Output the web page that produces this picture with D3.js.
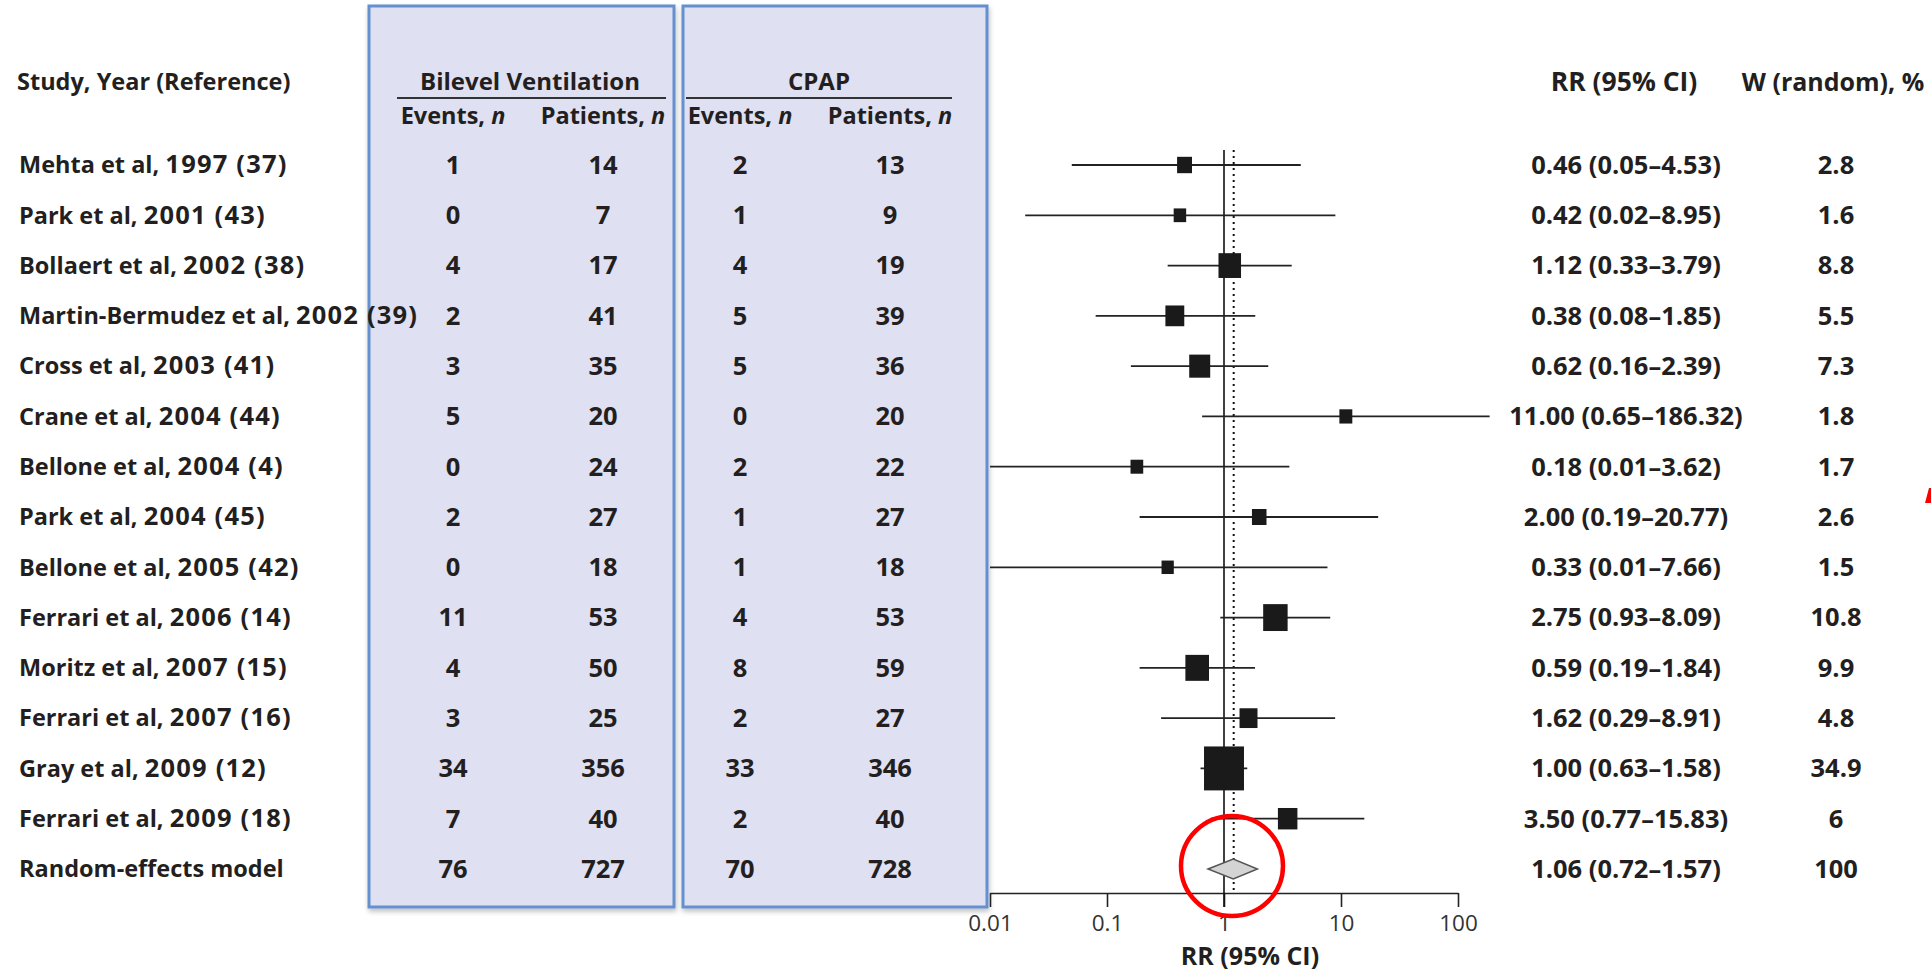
<!DOCTYPE html>
<html>
<head>
<meta charset="utf-8">
<script src="https://cdn.jsdelivr.net/npm/d3@7"></script>
<style>
  html, body { margin: 0; padding: 0; background: #fff; }
  svg { display: block; }
  text { font-family: "Open Sans", "Noto Sans", sans-serif; fill: #231f20; }
</style>
</head>
<body>
<svg id="chart" width="1931" height="974"></svg>
<script>
// ---------------- DATA ----------------
const studies = [
  "Mehta et al, 1997 (37)",
  "Park et al, 2001 (43)",
  "Bollaert et al, 2002 (38)",
  "Martin-Bermudez et al, 2002 (39)",
  "Cross et al, 2003 (41)",
  "Crane et al, 2004 (44)",
  "Bellone et al, 2004 (4)",
  "Park et al, 2004 (45)",
  "Bellone et al, 2005 (42)",
  "Ferrari et al, 2006 (14)",
  "Moritz et al, 2007 (15)",
  "Ferrari et al, 2007 (16)",
  "Gray et al, 2009 (12)",
  "Ferrari et al, 2009 (18)",
  "Random-effects model"
];
const bilevelEvents   = [1, 0, 4, 2, 3, 5, 0, 2, 0, 11, 4, 3, 34, 7, 76];
const bilevelPatients = [14, 7, 17, 41, 35, 20, 24, 27, 18, 53, 50, 25, 356, 40, 727];
const cpapEvents      = [2, 1, 4, 5, 5, 0, 2, 1, 1, 4, 8, 2, 33, 2, 70];
const cpapPatients    = [13, 9, 19, 39, 36, 20, 22, 27, 18, 53, 59, 27, 346, 40, 728];

const rr     = [0.46, 0.42, 1.12, 0.38, 0.62, 11.00, 0.18, 2.00, 0.33, 2.75, 0.59, 1.62, 1.00, 3.50];
const ciLow  = [0.05, 0.02, 0.33, 0.08, 0.16, 0.65, 0.01, 0.19, 0.01, 0.93, 0.19, 0.29, 0.63, 0.77];
const ciHigh = [4.53, 8.95, 3.79, 1.85, 2.39, 186.32, 3.62, 20.77, 7.66, 8.09, 1.84, 8.91, 1.58, 15.83];
const weights = [2.8, 1.6, 8.8, 5.5, 7.3, 1.8, 1.7, 2.6, 1.5, 10.8, 9.9, 4.8, 34.9, 6];

const rrLabels = [
  "0.46 (0.05–4.53)", "0.42 (0.02–8.95)", "1.12 (0.33–3.79)", "0.38 (0.08–1.85)",
  "0.62 (0.16–2.39)", "11.00 (0.65–186.32)", "0.18 (0.01–3.62)", "2.00 (0.19–20.77)",
  "0.33 (0.01–7.66)", "2.75 (0.93–8.09)", "0.59 (0.19–1.84)", "1.62 (0.29–8.91)",
  "1.00 (0.63–1.58)", "3.50 (0.77–15.83)", "1.06 (0.72–1.57)"
];
const weightLabels = ["2.8", "1.6", "8.8", "5.5", "7.3", "1.8", "1.7", "2.6", "1.5", "10.8", "9.9", "4.8", "34.9", "6", "100"];

// pooled diamond as drawn in the picture (low, estimate, high) and dotted reference line
const pooledDrawn = [0.73, 1.2, 1.93];
const pooledLine = 1.21;

const tickValues = [0.01, 0.1, 1, 10, 100];
const tickLabels = ["0.01", "0.1", "1", "10", "100"];

// ---------------- LAYOUT ----------------
const svg = d3.select("#chart");
const x = d3.scaleLog().domain([0.01, 100]).range([990, 1458]);
const y = d3.scaleLinear().domain([0, 14]).range([165, 869]);
const size = d3.scaleSqrt().domain([0, 35]).range([0, 35]);

const defs = svg.append("defs");
const filt = defs.append("filter").attr("id", "shadow")
  .attr("x", "-5%").attr("y", "-5%").attr("width", "115%").attr("height", "115%");
filt.append("feDropShadow").attr("dx", 1).attr("dy", 3).attr("stdDeviation", 2.5)
  .attr("flood-color", "#000").attr("flood-opacity", 0.25);

// boxes
const boxes = [[369, 674], [683, 987]];
svg.selectAll("rect.box").data(boxes).join("rect")
  .attr("class", "box")
  .attr("x", d => d[0]).attr("y", 6)
  .attr("width", d => d[1] - d[0]).attr("height", 901)
  .attr("fill", "#dfe0f1")
  .attr("stroke", "#6590d0").attr("stroke-width", 3)
  .attr("filter", "url(#shadow)");

const txt = (xp, yp, s, opts = {}) => svg.append("text")
  .attr("x", xp).attr("y", yp).attr("dy", "0.35em")
  .attr("text-anchor", opts.anchor || "middle")
  .attr("font-size", opts.size || 23.5)
  .attr("font-weight", opts.weight || 700)
  .style("fill", opts.fill || "#231f20")
  .text(s);

// headers
txt(17, 82, "Study, Year (Reference)", { anchor: "start" });
txt(530, 82, "Bilevel Ventilation", { size: 24 });
txt(819, 82, "CPAP", { size: 24 });
svg.append("line").attr("x1", 397).attr("x2", 666).attr("y1", 98).attr("y2", 98).attr("stroke", "#333").attr("stroke-width", 2);
svg.append("line").attr("x1", 686).attr("x2", 952).attr("y1", 98).attr("y2", 98).attr("stroke", "#333").attr("stroke-width", 2);

function subHeader(cx, label) {
  const t = svg.append("text").attr("x", cx).attr("y", 116).attr("dy", "0.35em")
    .attr("text-anchor", "middle").attr("font-size", 23.5).attr("font-weight", 700);
  t.append("tspan").text(label + ", ");
  t.append("tspan").attr("font-style", "italic").text("n");
}
subHeader(453, "Events");
subHeader(603, "Patients");
subHeader(740, "Events");
subHeader(890, "Patients");

txt(1624, 82, "RR (95% CI)", { size: 26.5 });
txt(1833, 82, "W (random), %", { size: 25 });

// row text
studies.forEach((s, i) => {
  const t = txt(19, y(i), "", { anchor: "start" });
  const m = s.match(/^(.*?)(\d.*)$/);
  if (m) {
    t.append("tspan").text(m[1]);
    t.append("tspan").attr("font-size", 25.5).attr("letter-spacing", 1.2).text(m[2]);
  } else {
    t.text(s);
  }
  txt(453, y(i), bilevelEvents[i], { size: 25.5 });
  txt(603, y(i), bilevelPatients[i], { size: 25.5 });
  txt(740, y(i), cpapEvents[i], { size: 25.5 });
  txt(890, y(i), cpapPatients[i], { size: 25.5 });
  txt(1626, y(i), rrLabels[i], { size: 25.5 });
  txt(1836, y(i), weightLabels[i], { size: 25.5 });
});

// axis
const axisY = 893;
const axis = d3.axisBottom(x).tickValues(tickValues).tickFormat((d, i) => tickLabels[i]).tickSize(14).tickSizeOuter(0);
const gAxis = svg.append("g").attr("transform", `translate(0,${axisY})`).call(axis);
gAxis.select(".domain").attr("stroke", "#222").attr("stroke-width", 1.6);
gAxis.selectAll(".tick line").attr("stroke", "#222").attr("stroke-width", 1.6);
gAxis.selectAll(".tick text").attr("font-size", 22.5).attr("font-weight", 400)
  .attr("font-family", "'Open Sans', sans-serif").style("fill", "#333").attr("dy", "0.95em");
txt(1250, 956, "RR (95% CI)", { size: 25 });

// reference lines
svg.append("line").attr("x1", x(1)).attr("x2", x(1)).attr("y1", 150).attr("y2", 907)
  .attr("stroke", "#111").attr("stroke-width", 1.6);
svg.append("line").attr("x1", x(pooledLine)).attr("x2", x(pooledLine)).attr("y1", 150).attr("y2", 893)
  .attr("stroke", "#111").attr("stroke-width", 2).attr("stroke-dasharray", "2,4");

// CI lines & markers
const idx = d3.range(rr.length);
svg.selectAll("line.ci").data(idx).join("line").attr("class", "ci")
  .attr("x1", i => x(ciLow[i])).attr("x2", i => x(ciHigh[i]))
  .attr("y1", i => y(i)).attr("y2", i => y(i))
  .attr("stroke", "#222").attr("stroke-width", 1.8);
svg.selectAll("rect.mk").data(idx).join("rect").attr("class", "mk")
  .each(function (i) {
    const w = 5 + size(weights[i]);
    const h = w * 1.1;
    d3.select(this).attr("x", x(rr[i]) - w / 2).attr("y", y(i) - h / 2)
      .attr("width", w).attr("height", h);
  })
  .attr("fill", "#1a1a1a");

// pooled diamond
const py = y(14);
svg.append("path")
  .attr("d", `M${x(pooledDrawn[0])},${py} L${x(pooledDrawn[1])},${py - 10} L${x(pooledDrawn[2])},${py} L${x(pooledDrawn[1])},${py + 10} Z`)
  .attr("fill", "#d4d4d4").attr("stroke", "#555").attr("stroke-width", 1.5);

// red annotation
svg.append("ellipse").attr("cx", 1232).attr("cy", 866).attr("rx", 51).attr("ry", 50)
  .attr("fill", "none").attr("stroke", "#f00").attr("stroke-width", 4.5);
svg.append("path").attr("d", "M1929,488 L1925,503 L1931,503 L1931,488 Z").attr("fill", "#f00");
</script>
</body>
</html>
